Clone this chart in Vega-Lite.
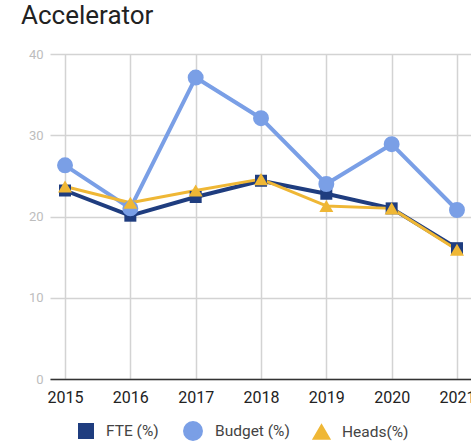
{
  "$schema": "https://vega.github.io/schema/vega-lite/v6.json",
  "autosize": "none",
  "width": 422,
  "height": 325,
  "padding": {"left": 50, "top": 54, "right": 0, "bottom": 63},
  "background": "white",
  "title": {
    "text": "Accelerator",
    "anchor": "start",
    "frame": "group",
    "font": "Roboto",
    "fontSize": 26,
    "fontWeight": "normal",
    "color": "#222222",
    "dx": -29,
    "dy": 1,
    "offset": 20
  },
  "config": {
    "view": {"stroke": null},
    "font": "Roboto"
  },
  "data": {
    "values": [
      {"year": 2015, "series": "FTE (%)", "value": 23.2},
      {"year": 2016, "series": "FTE (%)", "value": 20.1},
      {"year": 2017, "series": "FTE (%)", "value": 22.4},
      {"year": 2018, "series": "FTE (%)", "value": 24.4},
      {"year": 2019, "series": "FTE (%)", "value": 22.8},
      {"year": 2020, "series": "FTE (%)", "value": 21.0},
      {"year": 2021, "series": "FTE (%)", "value": 16.1},
      {"year": 2015, "series": "Budget (%)", "value": 26.3},
      {"year": 2016, "series": "Budget (%)", "value": 21.0},
      {"year": 2017, "series": "Budget (%)", "value": 37.1},
      {"year": 2018, "series": "Budget (%)", "value": 32.1},
      {"year": 2019, "series": "Budget (%)", "value": 24.0},
      {"year": 2020, "series": "Budget (%)", "value": 28.9},
      {"year": 2021, "series": "Budget (%)", "value": 20.8},
      {"year": 2015, "series": "Heads(%)", "value": 23.7},
      {"year": 2016, "series": "Heads(%)", "value": 21.7},
      {"year": 2017, "series": "Heads(%)", "value": 23.2},
      {"year": 2018, "series": "Heads(%)", "value": 24.6},
      {"year": 2019, "series": "Heads(%)", "value": 21.3},
      {"year": 2020, "series": "Heads(%)", "value": 21.0},
      {"year": 2021, "series": "Heads(%)", "value": 15.9}
    ]
  },
  "encoding": {
    "x": {
      "field": "year",
      "type": "quantitative",
      "scale": {"domain": [2014.77, 2021.23], "nice": false, "zero": false},
      "axis": {
        "title": null,
        "values": [2015, 2016, 2017, 2018, 2019, 2020, 2021],
        "format": "d",
        "grid": true,
        "gridColor": "#d3d3d3",
        "gridWidth": 1.5,
        "ticks": false,
        "domain": true,
        "domainColor": "#333333",
        "domainWidth": 1.5,
        "labelFont": "Roboto",
        "labelFontSize": 16,
        "labelColor": "#222222",
        "labelPadding": 10,
        "labelFlush": false,
        "labelOverlap": false
      }
    },
    "y": {
      "field": "value",
      "type": "quantitative",
      "scale": {"domain": [0, 40], "nice": false},
      "axis": {
        "title": null,
        "values": [0, 10, 20, 30, 40],
        "grid": true,
        "gridColor": "#d3d3d3",
        "gridWidth": 1.5,
        "ticks": false,
        "domain": false,
        "labelFont": "Roboto",
        "labelFontSize": 13,
        "labelColor": "#bdbdbd",
        "labelPadding": 7
      }
    },
    "color": {
      "field": "series",
      "type": "nominal",
      "sort": ["FTE (%)", "Budget (%)", "Heads(%)"],
      "scale": {
        "domain": ["FTE (%)", "Budget (%)", "Heads(%)"],
        "range": ["#1f3d7f", "#7a9fe6", "#efb735"]
      },
      "legend": {
        "title": null,
        "orient": "none",
        "direction": "horizontal",
        "legendX": 28,
        "legendY": 367,
        "padding": 0,
        "labelFont": "Roboto",
        "labelFontSize": 15.5,
        "labelColor": "#444444",
        "labelOffset": 12,
        "columnPadding": 18,
        "symbolStrokeWidth": 0,
        "symbolOpacity": 1
      }
    }
  },
  "layer": [
    {
      "mark": {"type": "line", "strokeCap": "round", "strokeJoin": "round"},
      "encoding": {
        "strokeWidth": {
          "field": "series",
          "type": "nominal",
          "scale": {
            "type": "ordinal",
            "domain": ["FTE (%)", "Budget (%)", "Heads(%)"],
            "range": [4, 4, 3]
          },
          "legend": null
        }
      }
    },
    {
      "mark": {"type": "point", "filled": true, "opacity": 1},
      "encoding": {
        "shape": {
          "field": "series",
          "type": "nominal",
          "sort": ["FTE (%)", "Budget (%)", "Heads(%)"],
          "scale": {
            "domain": ["FTE (%)", "Budget (%)", "Heads(%)"],
            "range": ["square", "circle", "triangle-up"]
          }
        },
        "size": {
          "field": "series",
          "type": "nominal",
          "sort": ["FTE (%)", "Budget (%)", "Heads(%)"],
          "scale": {
            "type": "ordinal",
            "domain": ["FTE (%)", "Budget (%)", "Heads(%)"],
            "range": [144, 254, 196]
          }
        }
      }
    }
  ]
}
